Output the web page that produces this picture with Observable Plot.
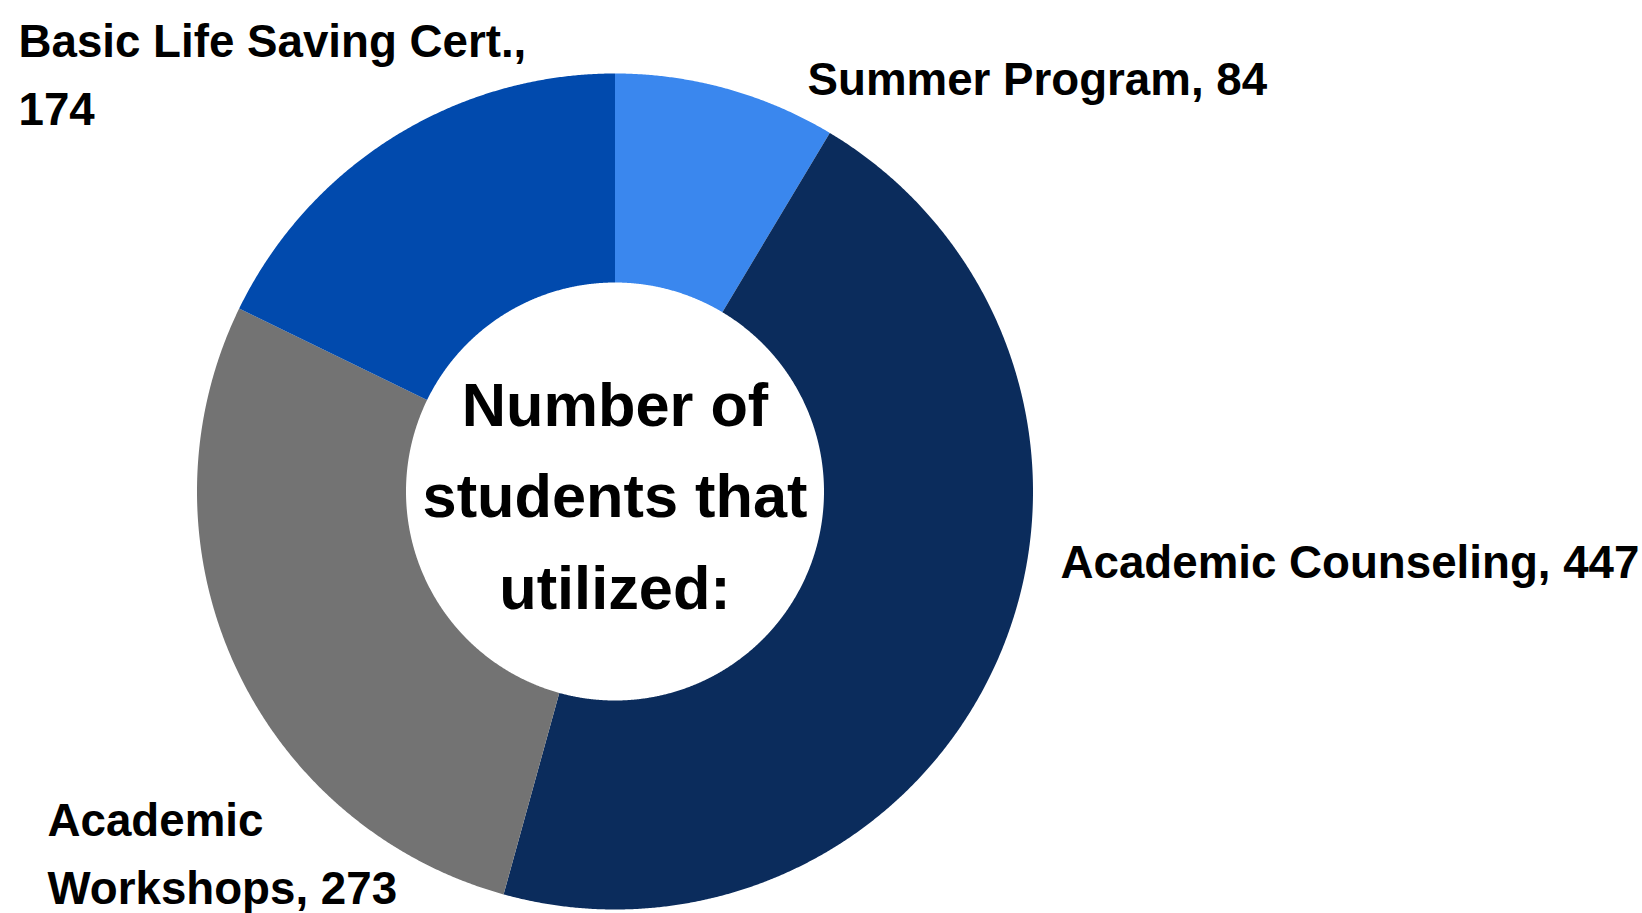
<!DOCTYPE html>
<html>
<head>
<meta charset="utf-8">
<script src="https://cdn.jsdelivr.net/npm/d3@7"></script>
<script src="https://cdn.jsdelivr.net/npm/@observablehq/plot@0.6"></script>
<style>
  html, body { margin: 0; padding: 0; background: #ffffff; overflow: hidden; }
  #chart svg { display: block; }
</style>
</head>
<body>
<div id="chart"></div>
<script>
// ---- data ----
const categories = ["Summer Program", "Academic Counseling", "Academic Workshops", "Basic Life Saving Cert."];
const values = [84, 447, 273, 174];
const centerTitle = ["Number of", "students that", "utilized:"];

// ---- styles / layout ----
const colors = ["#3A87EE", "#0B2C5C", "#737373", "#014AAD"];
const W = 1642, H = 913;
const cx = 614.5, cy = 491, R = 418, r = 209;
// label anchor: x = left edge, y = baseline of last line; wrap = where the label breaks
const labelLayout = [
  {x: 807, y: 94, wrap: "none"},
  {x: 1060, y: 577, wrap: "none"},
  {x: 47, y: 903, wrap: "word"},
  {x: 18, y: 124, wrap: "value"}
];

const rows = categories.map((name, i) => ({name, value: values[i]}));
const slices = d3.pie().sort(null).value(d => d.value).startAngle(0).endAngle(2 * Math.PI)(rows);

// polygon outline of each ring segment (geometry from the pie angles)
const ring = [];
for (const s of slices) {
  const n = Math.max(2, Math.ceil((s.endAngle - s.startAngle) / 0.004));
  for (let k = 0; k <= n; k++) {
    const a = s.startAngle + (s.endAngle - s.startAngle) * k / n;
    ring.push({name: s.data.name, px: cx + R * Math.sin(a), py: cy - R * Math.cos(a)});
  }
  for (let k = n; k >= 0; k--) {
    const a = s.startAngle + (s.endAngle - s.startAngle) * k / n;
    ring.push({name: s.data.name, px: cx + r * Math.sin(a), py: cy - r * Math.cos(a)});
  }
}

const labels = rows.map((d, i) => {
  const L = labelLayout[i];
  let text;
  if (L.wrap === "value") text = `${d.name},\n${d.value}`;
  else if (L.wrap === "word") {
    const j = d.name.indexOf(" ");
    text = `${d.name.slice(0, j)}\n${d.name.slice(j + 1)}, ${d.value}`;
  } else text = `${d.name}, ${d.value}`;
  return {text, lx: L.x, ly: L.y};
});

const chart = Plot.plot({
  width: W,
  height: H,
  margin: 0,
  x: {domain: [0, W], range: [0, W], axis: null},
  y: {domain: [0, H], range: [0, H], axis: null},
  color: {domain: categories, range: colors},
  style: {fontFamily: "'Liberation Sans', Arial, Helvetica, sans-serif", background: "#ffffff", overflow: "visible"},
  marks: [
    Plot.line(ring, {x: "px", y: "py", z: "name", fill: "name", stroke: "none", curve: "linear-closed"}),
    Plot.text(labels, {
      x: "lx", y: "ly", text: "text",
      textAnchor: "start", lineAnchor: "bottom", lineHeight: 1.47,
      fontSize: 45.7, fontWeight: "bold", fill: "#000000"
    }),
    Plot.text([centerTitle.join("\n")], {
      x: () => cx, y: () => 608, text: d => d,
      textAnchor: "middle", lineAnchor: "bottom", lineHeight: 1.49,
      fontSize: 61.3, fontWeight: "bold", fill: "#000000"
    })
  ]
});
document.getElementById("chart").appendChild(chart);
</script>
</body>
</html>
